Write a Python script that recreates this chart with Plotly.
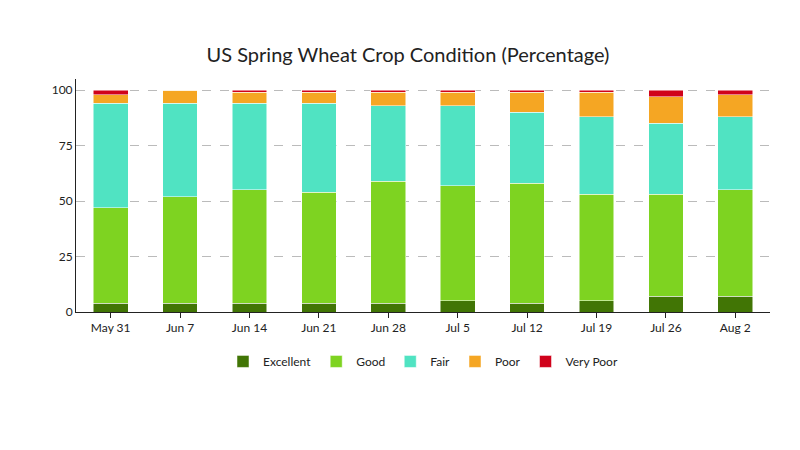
import plotly.graph_objects as go


# Состояние посевов яровой пшеницы
weeks = ['May 31', 'Jun 7', 'Jun 14', 'Jun 21', 'Jun 28',
         'Jul 5', 'Jul 12', 'Jul 19', 'Jul 26', 'Aug 2']
excellent = [4, 4, 4, 4, 4, 5, 4, 5, 7, 7]
good = [43, 48, 51, 50, 55, 52, 54, 48, 46, 48]
fair = [47, 42, 39, 40, 34, 36, 32, 35, 32, 33]
poor = [4, 6, 5, 5, 6, 6, 9, 11, 12, 10]
very_poor = [2, 0, 1, 1, 1, 1, 1, 1, 3, 2]

fig = go.Figure()
fig.add_trace(go.Bar(x=weeks, y=excellent, name='Excellent', marker_color='#417505'))
fig.add_trace(go.Bar(x=weeks, y=good, name='Good', marker_color='#7ed321'))
fig.add_trace(go.Bar(x=weeks, y=fair, name='Fair', marker_color='#50e3c2'))
fig.add_trace(go.Bar(x=weeks, y=poor, name='Poor', marker_color='#f5a623'))
fig.add_trace(go.Bar(x=weeks, y=very_poor, name='Very Poor', marker_color='#d0021b'))
fig.update_layout(
    title=dict(text='US Spring Wheat Crop Condition (Percentage)', x=0.5, y=0.895,
               yanchor='middle', font=dict(size=20, color='#222')),
    barmode='stack',
    bargap=0.5,     # расстояние между столбцами
    template='plotly_white',
    font=dict(family='Lato', size=12, color='#222'),
    width=800, height=450,
    margin=dict(l=68, r=38, t=71, b=146),
    legend=dict(orientation='h', x=0.5, xanchor='center', y=-0.15, yanchor='top',
                traceorder='normal', itemwidth=30),
    xaxis=dict(showline=True, linecolor='#222', showgrid=False, ticks='outside',
               ticklen=5, tickcolor='#222'),
    yaxis=dict(range=[0, 105], tickvals=[0, 25, 50, 75, 100], showline=True,
               linecolor='#222', gridcolor='#bbb', griddash='dash', zeroline=False))
fig.write_html('out.html')
